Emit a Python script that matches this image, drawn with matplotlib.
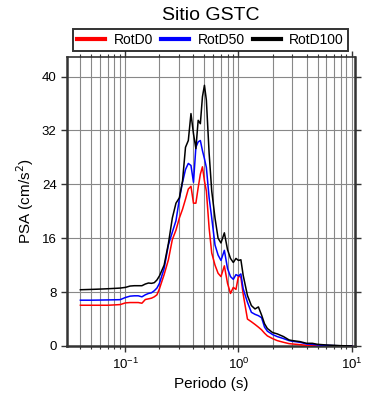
import matplotlib
matplotlib.use("Agg")
import matplotlib.pyplot as plt
from matplotlib.ticker import LogLocator, MultipleLocator, NullFormatter

plt.rcParams['font.family'] = ['Liberation Sans', 'DejaVu Sans']

# periodos (s) y espectros de respuesta (cm/s2)
periodo = [0.04, 0.05, 0.06, 0.07, 0.08, 0.09, 0.10, 0.11, 0.12, 0.13, 0.14, 0.15,
           0.16, 0.17, 0.18, 0.19, 0.20, 0.22, 0.24, 0.26, 0.28, 0.30, 0.32, 0.34,
           0.36, 0.38, 0.40, 0.42, 0.44, 0.46, 0.48, 0.50, 0.52, 0.55, 0.58, 0.62,
           0.66, 0.70, 0.75, 0.80, 0.85, 0.90, 0.95, 1.0, 1.05, 1.1, 1.2, 1.3, 1.4,
           1.5, 1.6, 1.7, 1.8, 2.0, 2.2, 2.5, 2.8, 3.0, 3.5, 4.0, 4.5, 5.0, 6.0,
           7.0, 8.0, 9.0, 10.0]

rotd100 = [8.35, 8.4, 8.45, 8.5, 8.55, 8.6, 8.7, 8.9, 8.95, 8.95, 8.95, 9.2,
           9.35, 9.3, 9.4, 9.8, 10.4, 12.0, 15.2, 19.0, 21.2, 22.0, 24.5, 29.5,
           30.5, 34.5, 31.5, 29.3, 33.5, 33.0, 37.0, 38.7, 36.5, 28.6, 23.0, 19.0,
           16.0, 15.3, 16.8, 14.3, 13.0, 12.4, 13.0, 12.7, 12.8, 10.5, 7.5, 6.0, 5.5,
           5.8, 4.6, 3.3, 2.6, 2.0, 1.8, 1.4, 0.9, 0.8, 0.65, 0.4, 0.4, 0.25, 0.15,
           0.1, 0.05, 0.03, 0.02]

rotd50 = [6.8, 6.8, 6.82, 6.84, 6.86, 6.88, 7.2, 7.4, 7.45, 7.45, 7.3, 7.6,
          7.8, 7.9, 8.2, 8.6, 9.3, 11.5, 15.0, 16.9, 18.6, 21.8, 24.3, 26.2,
          27.1, 26.8, 24.3, 29.5, 30.3, 30.5, 29.0, 27.8, 26.5, 22.0, 19.0, 15.0,
          13.5, 12.7, 14.2, 11.5, 10.3, 9.9, 10.6, 10.4, 10.7, 8.5, 6.5, 5.0, 4.7,
          4.5, 4.2, 2.8, 2.2, 1.7, 1.4, 1.1, 0.8, 0.7, 0.55, 0.3, 0.25, 0.15, 0.1,
          0.05, 0.03, 0.02, 0.01]

rotd0 = [6.05, 6.05, 6.05, 6.05, 6.1, 6.15, 6.4, 6.45, 6.45, 6.45, 6.35, 6.9,
         7.0, 7.1, 7.3, 7.6, 8.5, 10.6, 12.8, 15.8, 17.2, 19.0, 20.3, 21.8,
         23.3, 23.7, 21.2, 21.2, 23.5, 25.5, 26.6, 24.5, 23.0, 17.5, 13.8, 12.0,
         10.8, 10.3, 11.9, 9.3, 7.8, 8.7, 8.4, 10.4, 10.2, 7.7, 4.0, 3.6, 3.2,
         2.8, 2.4, 1.9, 1.5, 1.1, 0.8, 0.55, 0.35, 0.3, 0.2, 0.1, 0.08, 0.05, 0.02,
         0.01, 0.0, 0.0, 0.0]

fig = plt.figure(figsize=(3.9, 4.0), dpi=100)
ax = fig.add_axes([0.172, 0.135, 0.738, 0.7225])

ax.plot(periodo, rotd0, color='red', lw=1.1, label='RotD0', zorder=3)
ax.plot(periodo, rotd50, color='blue', lw=1.1, label='RotD50', zorder=4)
ax.plot(periodo, rotd100, color='black', lw=1.1, label='RotD100', zorder=5)

ax.set_xscale('log')
ax.set_xlim(0.0305, 10.7)
ax.set_ylim(0, 42.9)
ax.yaxis.set_major_locator(MultipleLocator(8))
ax.xaxis.set_major_locator(LogLocator(base=10))
ax.xaxis.set_minor_locator(LogLocator(base=10, subs=range(2, 10)))
ax.xaxis.set_minor_formatter(NullFormatter())

ax.grid(True, which='both', axis='x', color='#888888', lw=0.8)
ax.grid(True, which='major', axis='y', color='#888888', lw=0.8)

for s in ax.spines.values():
    s.set_linewidth(1.8)
    s.set_color('#333333')
ax.spines['top'].set_linewidth(1.2)

ax.tick_params(which='both', direction='out', top=True, right=True,
               labelsize=9.5, color='#333333')
ax.tick_params(which='major', length=4, width=1)
ax.tick_params(which='minor', length=2.5, width=0.8)

ax.set_xlabel('Periodo (s)', fontsize=11)
ax.set_ylabel('PSA (cm/s$^2$)', fontsize=11)
fig.text(0.541, 0.96, 'Sitio GSTC', fontsize=14, ha='center', va='center')

leg = fig.legend(loc='center', bbox_to_anchor=(0.54, 0.9), ncol=3,
                 fontsize=10, frameon=True, fancybox=False, handlelength=2.0,
                 handletextpad=0.6, columnspacing=0.6, borderpad=0.3)
leg.get_frame().set_edgecolor('black')
leg.get_frame().set_linewidth(1.4)
for h in leg.get_lines():
    h.set_linewidth(3)

fig.savefig('out.png', dpi=100)
